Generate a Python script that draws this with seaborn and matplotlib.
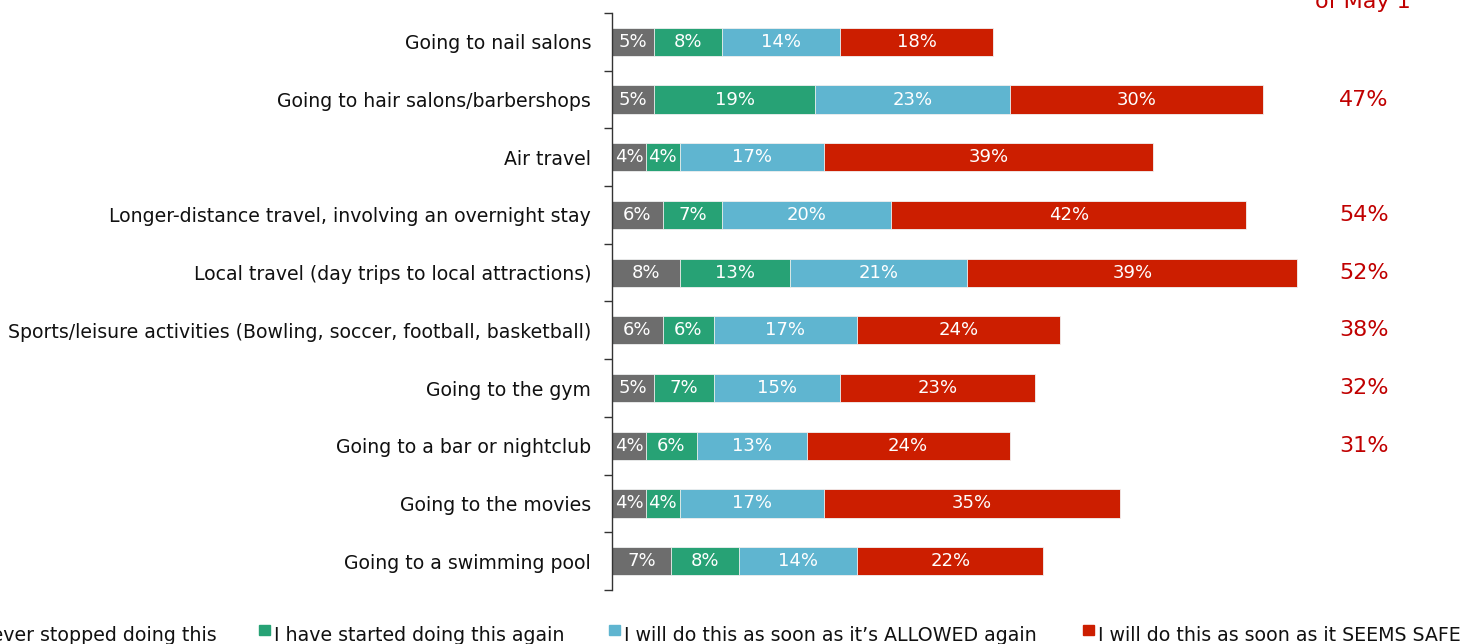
import numpy as np
import pandas as pd
import seaborn as sns
import matplotlib.pyplot as plt
from matplotlib.patches import Rectangle
from matplotlib import transforms

activities = [
    "Going to nail salons",
    "Going to hair salons/barbershops",
    "Air travel",
    "Longer-distance travel, involving an overnight stay",
    "Local travel (day trips to local attractions)",
    "Sports/leisure activities (Bowling, soccer, football, basketball)",
    "Going to the gym",
    "Going to a bar or nightclub",
    "Going to the movies",
    "Going to a swimming pool",
]
never_stopped = [5, 5, 4, 6, 8, 6, 5, 4, 4, 7]
started_again = [8, 19, 4, 7, 13, 6, 7, 6, 4, 8]
when_allowed = [14, 23, 17, 20, 21, 17, 15, 13, 17, 14]
when_safe = [18, 30, 39, 42, 39, 24, 23, 24, 35, 22]
as_of_may1 = ["", "47%", "", "54%", "52%", "38%", "32%", "31%", "", ""]

series_names = [
    "I never stopped doing this",
    "I have started doing this again",
    "I will do this as soon as it\u2019s ALLOWED again",
    "I will do this as soon as it SEEMS SAFE",
]
colors = ["#6d6d6d", "#27a275", "#5fb5d0", "#cc1e00"]

sns.set_theme(style="white")
plt.rcParams["font.family"] = ["DejaVu Sans"]

W, H = 1462, 644
fig = plt.figure(figsize=(W / 100, H / 100), dpi=100)
ax = fig.add_axes([612 / W, 54 / H, 846 / W, 577 / H])

series = [never_stopped, started_again, when_allowed, when_safe]
df = pd.DataFrame({"activity": activities})
for name, vals in zip(series_names, series):
    df[name] = vals
cum = df[series_names].cumsum(axis=1)

# stacked bars: draw cumulative totals from the outermost segment inwards
for i in range(len(series_names) - 1, -1, -1):
    sns.barplot(data=cum.assign(activity=activities), x=series_names[i], y="activity",
                orient="h", color=colors[i], width=0.49, edgecolor="#f2f2f2",
                linewidth=0.6, saturation=1, ax=ax)

for r in range(len(activities)):
    left = 0
    for vals in series:
        v = vals[r]
        ax.text(left + v / 2, r, f"{v}%", ha="center", va="center",
                color="white", fontsize=13)
        left += v

ax.set_xlim(0, 100)
ax.set_ylim(9.5, -0.5)
ax.set_xlabel("")
ax.set_ylabel("")
ax.set_xticks([])
for s in ["top", "right", "bottom"]:
    ax.spines[s].set_visible(False)
ax.spines["left"].set_color("#333333")
ax.spines["left"].set_linewidth(1.0)
ax.set_yticks(range(len(activities)))
ax.set_yticklabels(activities, fontsize=13.6, color="#111111")
ax.tick_params(axis="y", which="major", length=0, pad=15)
ax.set_yticks(np.arange(-0.5, len(activities), 1.0), minor=True)
ax.tick_params(axis="y", which="minor", length=6, width=1.0, color="#333333",
               direction="out", left=True)

# right-hand column of totals
trans = transforms.blended_transform_factory(fig.transFigure, ax.transData)
for r, lab in enumerate(as_of_may1):
    if lab:
        ax.text(1364 / W, r, lab, transform=trans, ha="center", va="center",
                color="#c00000", fontsize=16, clip_on=False)
fig.text(1363 / W, 1 - 8 / H, "of May 1", ha="center", va="baseline",
         color="#c00000", fontsize=16)

# legend row
legend_entries = [
    (217, "right"),
    (274, "left"),
    (624, "left"),
    (1098, "left"),
]
for (x, ha), name, c in zip(legend_entries, series_names, colors):
    fig.text(x / W, 1 - 641 / H, name, ha=ha, va="baseline",
             fontsize=13.7, color="#111111")
    if ha == "left":
        fig.patches.append(Rectangle(((x - 15) / W, 1 - 635 / H), 11 / W, 10 / H,
                                     transform=fig.transFigure, color=c))

fig.savefig("out.png", dpi=100)
